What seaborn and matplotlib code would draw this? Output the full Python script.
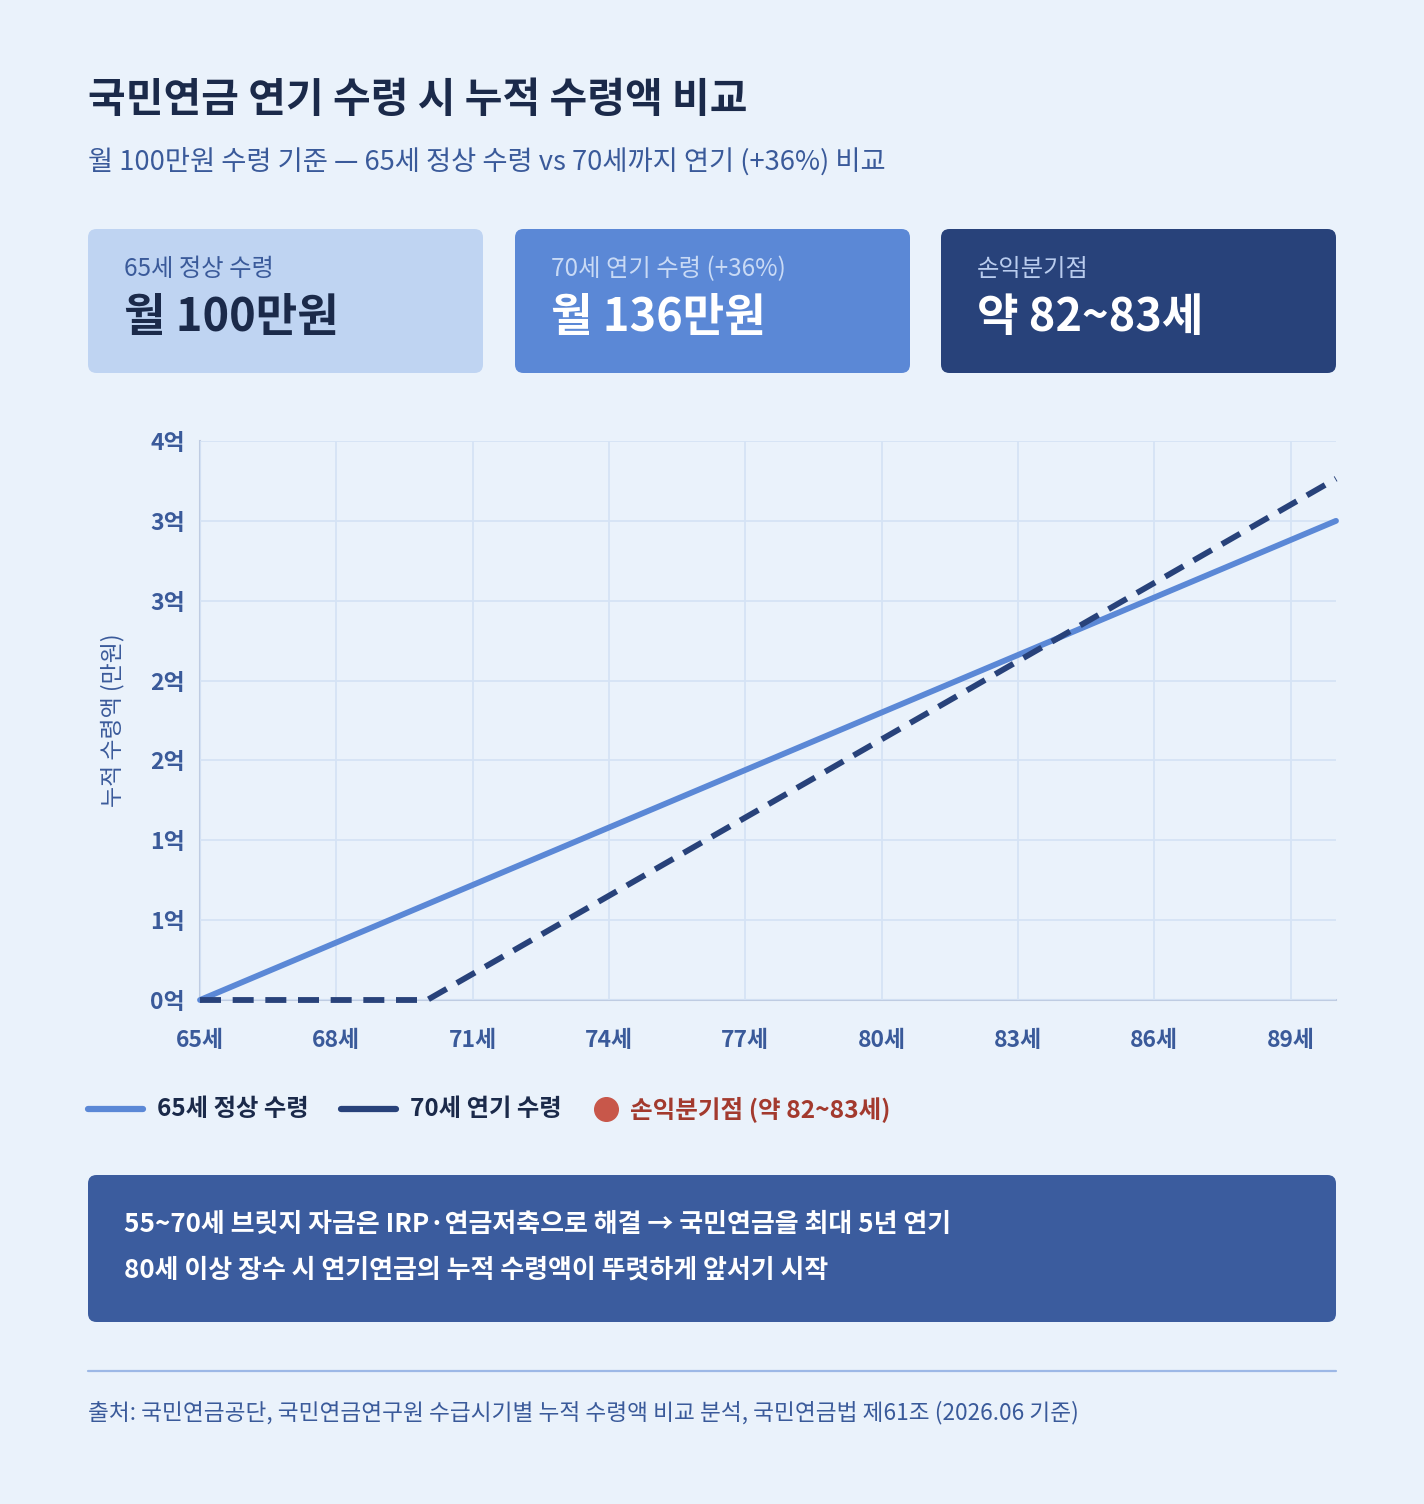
import seaborn as sns
import matplotlib.pyplot as plt
import pandas as pd
from matplotlib.patches import FancyBboxPatch
from matplotlib.lines import Line2D

# data (만원, 누적)
ages = [65, 66, 67, 68, 69, 70, 71, 72, 73, 74, 75, 76, 77, 78, 79, 80,
        81, 82, 83, 84, 85, 86, 87, 88, 89, 90]
normal_cum = [0, 1200, 2400, 3600, 4800, 6000, 7200, 8400, 9600, 10800, 12000,
              13200, 14400, 15600, 16800, 18000, 19200, 20400, 21600, 22800,
              24000, 25200, 26400, 27600, 28800, 30000]
delayed_cum = [0, 0, 0, 0, 0, 0, 1632, 3264, 4896, 6528, 8160, 9792, 11424,
               13056, 14688, 16320, 17952, 19584, 21216, 22848, 24480, 26112,
               27744, 29376, 31008, 32640]
x_ticks = [65, 68, 71, 74, 77, 80, 83, 86, 89]
x_labels = ['65세', '68세', '71세', '74세', '77세', '80세', '83세', '86세', '89세']
y_ticks = [0, 5000, 10000, 15000, 20000, 25000, 30000, 35000]
y_labels = ['0억', '1억', '1억', '2억', '2억', '3억', '3억', '4억']
series_names = ['65세 정상 수령', '70세 연기 수령']

BG = '#EAF2FB'
NAVY = '#1B2A4A'
MID = '#3A5A9A'
LIGHT_LINE = '#5B88D6'
DARK_LINE = '#28427A'
GRID = '#D5E3F5'

sns.set_theme(style='white')
plt.rcParams['font.family'] = ['Noto Sans CJK KR', 'DejaVu Sans']

W, H = 1424, 1504
fig = plt.figure(figsize=(W / 100, H / 100), dpi=100, facecolor=BG)


def fx(x):
    return x / W


def fy(y):
    return 1 - y / H


# title block
fig.text(fx(88), fy(100), '국민연금 연기 수령 시 누적 수령액 비교', fontsize=29.5,
         fontweight='bold', color=NAVY, va='center')
fig.text(fx(88), fy(162), '월 100만원 수령 기준 — 65세 정상 수령 vs 70세까지 연기 (+36%) 비교',
         fontsize=19.7, fontweight='medium', color=MID, va='center')

# summary cards
cards = [
    (88, '#BFD4F2', '65세 정상 수령', '월 100만원', '#3A5A9A', NAVY),
    (515, '#5B88D6', '70세 연기 수령 (+36%)', '월 136만원', '#C9DAF5', 'white'),
    (941, '#28427A', '손익분기점', '약 82~83세', '#B9CCEE', 'white'),
]
for x0, fc, label, value, lc, vc in cards:
    box = FancyBboxPatch((fx(x0), fy(373)), fx(395), 144 / H,
                         boxstyle='round,pad=0,rounding_size=0.006',
                         transform=fig.transFigure, facecolor=fc,
                         edgecolor='none', mutation_aspect=W / H)
    fig.add_artist(box)
    fig.text(fx(x0 + 36), fy(269), label, fontsize=17.5, fontweight='medium',
             color=lc, va='center')
    fig.text(fx(x0 + 36), fy(318), value, fontsize=32.5, fontweight='bold',
             color=vc, va='center')

# main chart
ax = fig.add_axes([fx(200), fy(1000), fx(1136), 559 / H])
ax.set_facecolor(BG)
df = pd.DataFrame({'age': ages, 'normal': normal_cum, 'delayed': delayed_cum})
sns.lineplot(data=df, x='age', y='normal', ax=ax, color=LIGHT_LINE,
             linewidth=4.2, solid_capstyle='round')
sns.lineplot(data=df, x='age', y='delayed', ax=ax, color=DARK_LINE,
             linewidth=4.2, dashes=False)
ax.lines[-1].set_linestyle((0, (3.6, 2)))
for ln in ax.lines:
    ln.set_clip_on(False)

ax.set_xlim(65, 90)
ax.set_ylim(0, 35000)
ax.set_xticks(x_ticks)
ax.set_xticklabels(x_labels)
ax.set_yticks(y_ticks)
ax.set_yticklabels(y_labels)
ax.grid(True, color=GRID, linewidth=1.3)
ax.set_axisbelow(True)
ax.tick_params(axis='both', length=7, color=GRID, width=1.3, labelsize=16.5,
               labelcolor=MID)
ax.tick_params(axis='x', pad=14)
ax.tick_params(axis='y', pad=4)
for t in ax.get_xticklabels() + ax.get_yticklabels():
    t.set_fontweight('semibold')
for side in ['top', 'right']:
    ax.spines[side].set_visible(False)
for side in ['left', 'bottom']:
    ax.spines[side].set_color('#BFCCE2')
    ax.spines[side].set_linewidth(1.5)
    ax.spines[side].set_zorder(0.5)
ax.set_xlabel('')
ax.set_ylabel('')
fig.text(fx(113), fy(720), '누적 수령액 (만원)', rotation=90, fontsize=16.5,
         color=MID, va='center', ha='center')

# legend row
fig.add_artist(Line2D([fx(88), fx(143)], [fy(1109), fy(1109)], color=LIGHT_LINE,
                      linewidth=4.5, transform=fig.transFigure))
fig.text(fx(157), fy(1109), series_names[0], fontsize=17.5, fontweight='bold',
         color=NAVY, va='center')
fig.add_artist(Line2D([fx(341), fx(396)], [fy(1109), fy(1109)], color=DARK_LINE,
                      linewidth=4.5, transform=fig.transFigure))
fig.text(fx(410), fy(1109), series_names[1], fontsize=17.5, fontweight='bold',
         color=NAVY, va='center')
fig.add_artist(Line2D([fx(606)], [fy(1109)], marker='o', markersize=17,
                      color='#C8574A', linestyle='none', transform=fig.transFigure))
fig.text(fx(630), fy(1109), '손익분기점 (약 82~83세)', fontsize=17.7,
         fontweight='bold', color='#A33A2E', va='center')

# insight box
box = FancyBboxPatch((fx(88), fy(1322)), fx(1248), 147 / H,
                     boxstyle='round,pad=0,rounding_size=0.006',
                     transform=fig.transFigure, facecolor='#3B5C9E',
                     edgecolor='none', mutation_aspect=W / H)
fig.add_artist(box)
fig.text(fx(124), fy(1224), '55~70세 브릿지 자금은 IRP·연금저축으로 해결 → 국민연금을 최대 5년 연기',
         fontsize=18.7, fontweight='bold', color='white', va='center')
fig.text(fx(124), fy(1270), '80세 이상 장수 시 연기연금의 누적 수령액이 뚜렷하게 앞서기 시작',
         fontsize=18.7, fontweight='bold', color='white', va='center')

# footer
fig.add_artist(Line2D([fx(88), fx(1336)], [fy(1371), fy(1371)], color='#9DB8E6',
                      linewidth=1.6, transform=fig.transFigure))
fig.text(fx(88), fy(1413), '출처: 국민연금공단, 국민연금연구원 수급시기별 누적 수령액 비교 분석, 국민연금법 제61조 (2026.06 기준)',
         fontsize=16.3, fontweight='medium', color=MID, va='center')

plt.savefig('out.png', dpi=100, facecolor=BG)
